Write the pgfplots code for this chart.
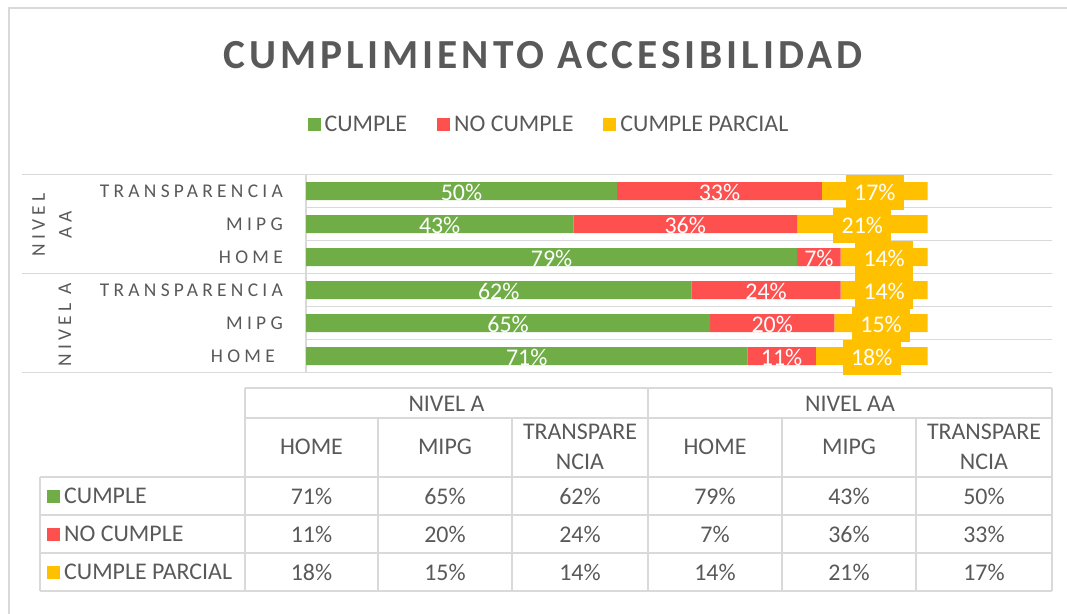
\documentclass[border=0pt]{standalone}
\usepackage{fontspec}
\setmainfont{Carlito}
\newfontfamily\titlefont[LetterSpace=9.5]{Carlito}
\newfontfamily\catfont[LetterSpace=22]{Carlito}
\usepackage{pgfplots}
\pgfplotsset{compat=1.18}
\definecolor{cgreen}{HTML}{70AD47}
\definecolor{cred}{HTML}{FF5050}
\definecolor{cyel}{HTML}{FFC000}
\definecolor{ctext}{HTML}{595959}
\definecolor{cgrid}{HTML}{D9D9D9}
\newcommand{\catsize}{\catfont\fontsize{19.5}{22}\selectfont}
\newcommand{\lblsize}{\fontsize{24}{26}\selectfont}
\newcommand{\txtsize}{\fontsize{24}{28}\selectfont}
\pgfplotsset{
  legsq/.style={legend image code/.code={\fill[##1] (0bp,-6.5bp) rectangle (13bp,6.5bp);}},
  baseaxis/.style={
    at={(306bp,-372.7bp)}, anchor=south west,
    width=746bp, height=198bp, scale only axis,
    xmin=0, xmax=120, ymin=-0.5, ymax=5.5,
    axis line style={draw=none},
    xtick=\empty, major tick length=0pt, minor tick length=0pt,
  },
}
\begin{document}
\begin{tikzpicture}[x=1bp,y=-1bp]
\path[use as bounding box] (0,0) rectangle (1067,614);
\draw[cgrid, line width=1.5bp] (9,614) -- (9,8) -- (1067,8);
\node[text=ctext, font=\titlefont\bfseries\fontsize{41.5}{48}\selectfont] at (543,55) {CUMPLIMIENTO ACCESIBILIDAD};

\begin{axis}[baseaxis,
  xbar stacked, bar width=18bp,
  ytick={0,...,5},
  yticklabels={HOME\rule{8bp}{0pt}, MIPG, TRANSPARENCIA, HOME, MIPG, TRANSPARENCIA},
  yticklabel style={anchor=east, inner sep=0pt, xshift=-23bp, font=\catsize, text=ctext},
  minor ytick={-0.5,0.5,...,5.5},
  yminorgrids=true,
  minor y grid style={cgrid, line width=1.5bp},
  legend style={at={(0.327,1.2525)}, anchor=center, draw=none, fill=none,
    legend columns=3, font=\txtsize, text=ctext,
    /tikz/every even column/.append style={column sep=26bp},
    nodes={inner xsep=4bp}},
  clip=false,
]
\addplot[fill=cgreen, draw=none, legsq] coordinates {(71,0) (65,1) (62,2) (79,3) (43,4) (50,5)};
\addplot[fill=cred, draw=none, legsq] coordinates {(11,0) (20,1) (24,2) (7,3) (36,4) (33,5)};
\addplot[fill=cyel, draw=none, legsq] coordinates {(18,0) (15,1) (14,2) (14,3) (21,4) (17,5)};
\legend{CUMPLE, NO CUMPLE, CUMPLE PARCIAL}
\draw[cgrid, line width=1.5bp] (axis cs:0,-0.5) -- (axis cs:0,5.5);
\end{axis}

\begin{axis}[baseaxis, ytick=\empty, clip=false,
  point meta=explicit,
  /pgf/number format/assume math mode=true,
  nodes near coords={\pgfmathprintnumber{\pgfplotspointmeta}\%},
  every node near coord/.append style={anchor=center, font=\lblsize, text=white, inner sep=0pt, yshift=-1bp},
]
\addplot[draw=none, mark=none] coordinates {(35.5,0) [71] (32.5,1) [65] (31,2) [62] (39.5,3) [79] (21.5,4) [43] (25,5) [50]};
\addplot[draw=none, mark=none] coordinates {(76.5,0) [11] (75,1) [20] (74,2) [24] (82.5,3) [7] (61,4) [36] (66.5,5) [33]};
\addplot[draw=none, mark=none, every node near coord/.append style={fill=cyel, minimum width=58bp, minimum height=35bp}] coordinates {(91,0) [18] (92.5,1) [15] (93,2) [14] (93,3) [14] (89.5,4) [21] (91.5,5) [17]};
\end{axis}

% group separators
\foreach \yy in {174.7, 273.7, 372.7} \draw[cgrid, line width=1.5bp] (22,\yy) -- (306,\yy);
\node[rotate=90, font=\catsize, text=ctext] at (65,325) {NIVEL A};
\node[rotate=90, font=\catsize, text=ctext, align=center] at (52,225) {NIVEL\\[5bp]AA};

% table
\begin{scope}[cgrid, line width=1.5bp]
\draw (245,388) -- (1052,388);
\draw (245,418) -- (1052,418);
\foreach \yy in {477,515,553,591} \draw (40,\yy) -- (1052,\yy);
\foreach \xx in {245,648,1052} \draw (\xx,388) -- (\xx,591);
\foreach \xx in {378,512,782,916} \draw (\xx,418) -- (\xx,591);
\draw (40,477) -- (40,591);
\end{scope}
\begin{scope}[every node/.style={text=ctext, font=\txtsize, inner sep=0pt}]
\node at (446.5,404) {NIVEL A};
\node at (850,404) {NIVEL AA};
\foreach \cx in {311.5,715} \node at (\cx,447) {HOME};
\foreach \cx in {445,849} \node at (\cx,447) {MIPG};
\foreach \cx in {580,984} \node[align=center] at (\cx,447) {TRANSPARE\\[2bp]NCIA};
\fill[cgreen] (47,489.5) rectangle (60,502.5);
\fill[cred] (47,527.5) rectangle (60,540.5);
\fill[cyel] (47,565.5) rectangle (60,578.5);
\node[anchor=west] at (64,496) {CUMPLE};
\node[anchor=west] at (64,534) {NO CUMPLE};
\node[anchor=west] at (64,572) {CUMPLE PARCIAL};
\foreach \cx/\a/\b/\c in {311.5/71/11/18, 445/65/20/15, 580/62/24/14, 715/79/7/14, 849/43/36/21, 984/50/33/17} {
  \node at (\cx,496) {\a\%};
  \node at (\cx,534) {\b\%};
  \node at (\cx,572) {\c\%};
}
\end{scope}
\end{tikzpicture}
\end{document}
